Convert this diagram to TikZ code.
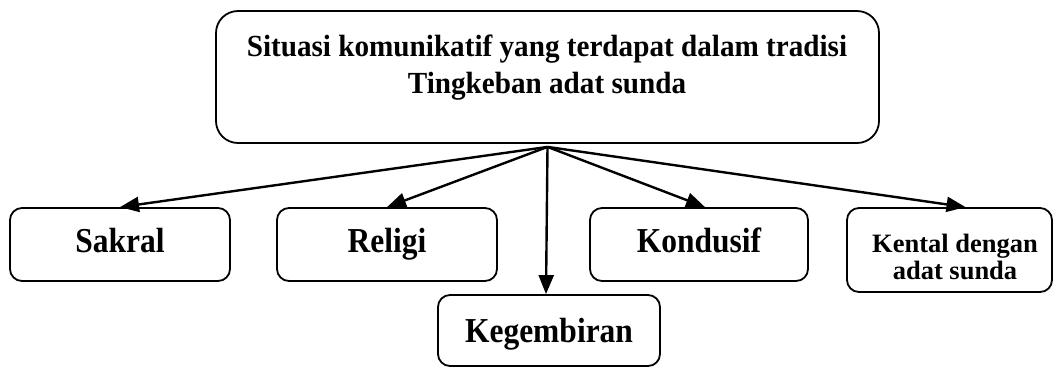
\documentclass[tikz,border=0pt]{standalone}
\usepackage{fontspec}
\setmainfont{Liberation Serif}
\newfontfamily\tallfont[FakeStretch=0.9]{Liberation Serif}
\newfontfamily\midfont[FakeStretch=0.95]{Liberation Serif}
\usetikzlibrary{arrows.meta,calc}
\begin{document}
\begin{tikzpicture}[x=1pt,y=-1pt,
  box/.style={draw,line width=1.8pt,rounded corners=12pt,inner sep=0pt,align=center},
  arr/.style={line width=2.4pt,-{Triangle[length=19pt,width=15pt]}},
  big/.style={font=\tallfont\bfseries\fontsize{35}{38}\selectfont,text height=22pt,text depth=7pt},
  small/.style={font=\bfseries\fontsize{26.5}{27}\selectfont,inner sep=0pt,align=center}]
\useasboundingbox (0,0) rectangle (1054,368);
\node[box,rounded corners=22pt,minimum width=663pt,minimum height=132pt] (top) at (547.5,77) {};
\node[align=center,inner sep=0pt,font=\midfont\bfseries\fontsize{30.7}{37}\selectfont] (toptxt) at (547,68)
  {Situasi komunikatif yang terdapat dalam tradisi\\Tingkeban adat sunda};
\node[box,big,minimum width=220pt,minimum height=73pt] (sakral) at (120,244.5) {Sakral};
\node[box,big,minimum width=220pt,minimum height=73pt] (religi) at (387,244.5) {Religi};
\node[box,big,minimum width=218pt,minimum height=73pt] (kondusif) at (699,244.5) {Kondusif};
\node[box,minimum width=205pt,minimum height=84pt] (kental) at (949.5,250) {};
\node[small] (kentaltxt) at (955,257) {Kental dengan\\adat sunda};
\node[box,big,text height=26pt,text depth=3pt,minimum width=222pt,minimum height=71pt] (kegembiran) at (549,330.5) {Kegembiran};
\coordinate (o) at ($(top.south)+(0,3)$);
\draw[arr] (o) -- (sakral.north);
\draw[arr] (o) -- (religi.north);
\draw[arr] (o) -- ($(kegembiran.north)+(-3,0)$);
\draw[arr] (o) -- ($(kondusif.north)+(6,0)$);
\draw[arr] (o) -- ($(kental.north)+(16,0)$);
\end{tikzpicture}
\end{document}
